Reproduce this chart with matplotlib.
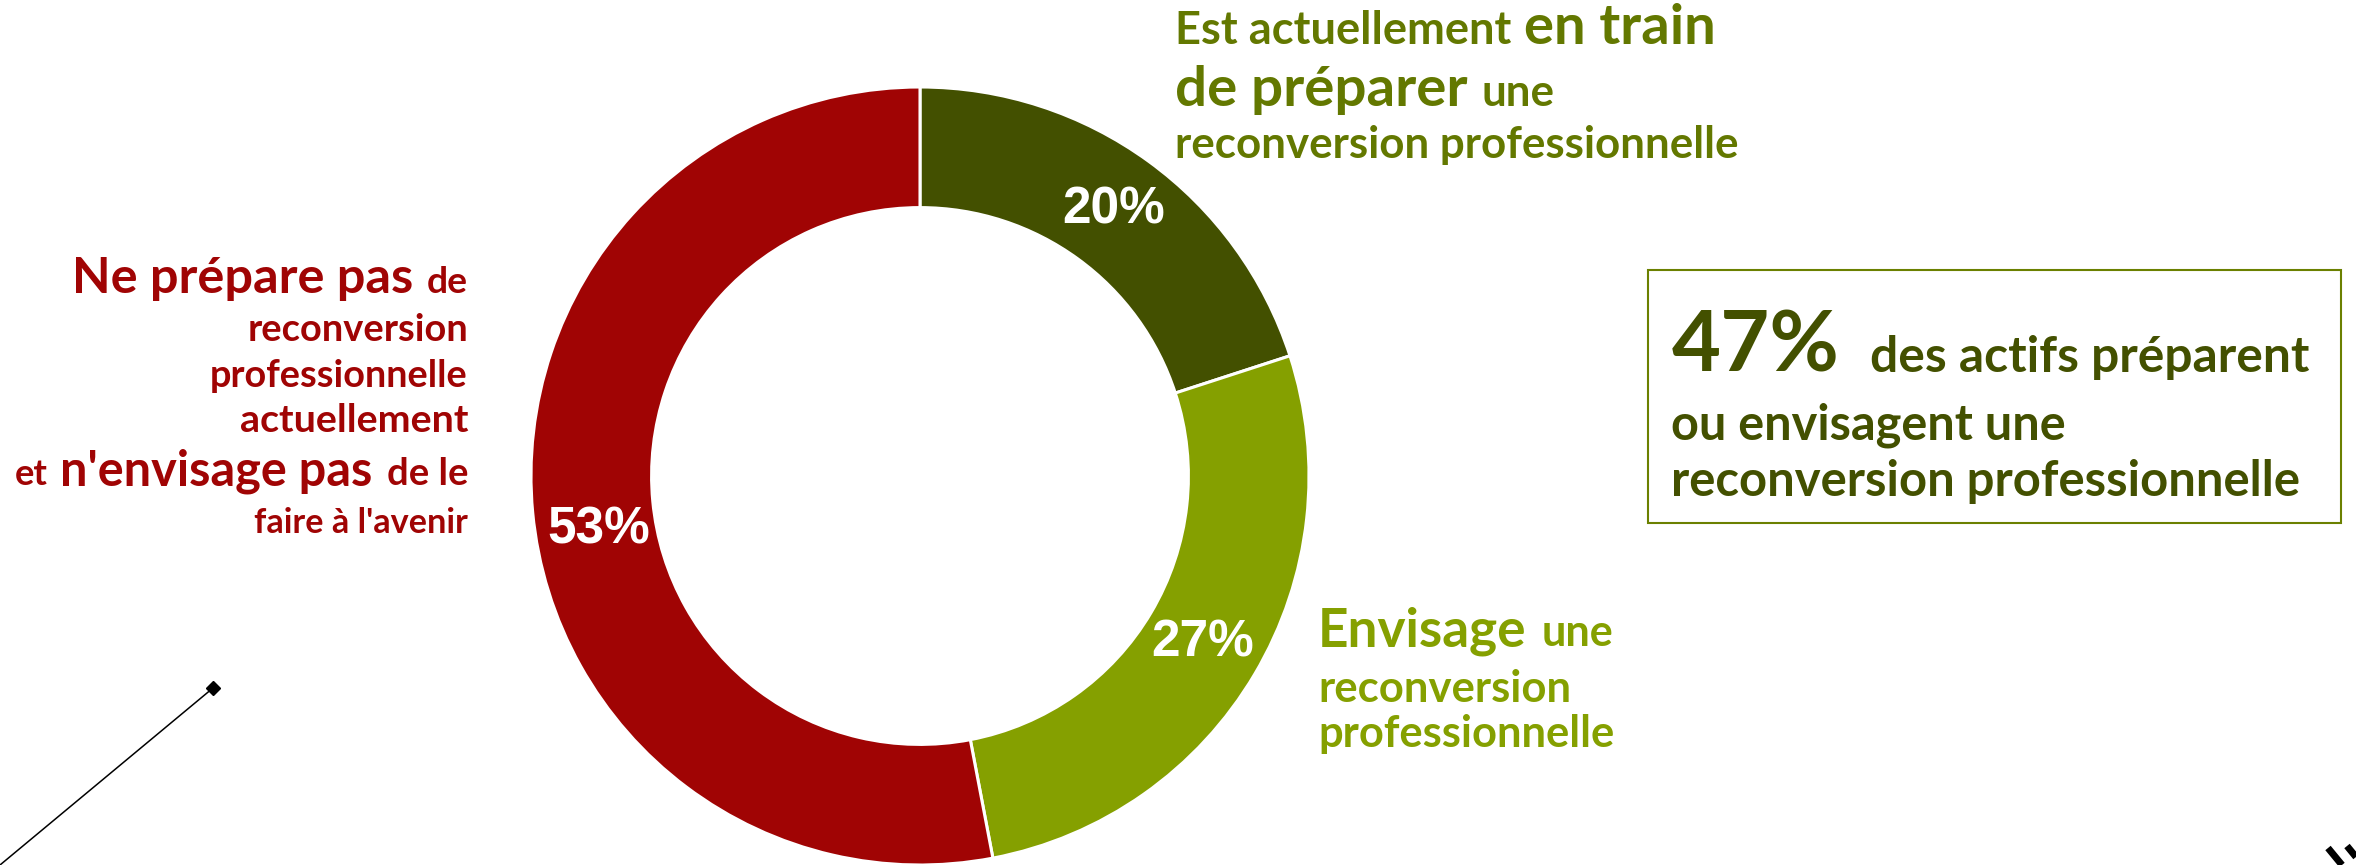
import matplotlib
matplotlib.use("Agg")
import matplotlib.pyplot as plt
from matplotlib.patches import Rectangle
from matplotlib.lines import Line2D

# ---------------- data ----------------
categories = [
    "Est actuellement en train de préparer une reconversion professionnelle",
    "Envisage une reconversion professionnelle",
    "Ne prépare pas de reconversion professionnelle actuellement et n'envisage pas de le faire à l'avenir",
]
values = [20, 27, 53]
wedge_colors = ["#435000", "#85a000", "#a00404"]
highlight_value = "47%"

# ---------------- figure ----------------
W, H, DPI = 2356, 865, 100
fig = plt.figure(figsize=(W / DPI, H / DPI), dpi=DPI)
fig.patch.set_facecolor("white")

FONT = "Lato"
renderer = fig.canvas.get_renderer()


def fit_size(s, target_px, family=FONT, weight="bold"):
    t = fig.text(0, 0, s, fontsize=100, family=family, fontweight=weight)
    w = t.get_window_extent(renderer).width
    t.remove()
    return 100 * target_px / w


def put(s, x, y, width, color, family=FONT, weight="bold"):
    size = fit_size(s, width, family, weight)
    fig.text(x / W, 1 - y / H, s, fontsize=size, family=family,
             fontweight=weight, color=color, ha="left", va="baseline")


# donut
cx, cy, R = 920, 476, 389
ax = fig.add_axes([(cx - R) / W, (H - cy - R) / H, 2 * R / W, 2 * R / H])
wedges, texts, autotexts = ax.pie(
    values, colors=wedge_colors, startangle=90, counterclock=False,
    radius=1, wedgeprops=dict(width=0.31, edgecolor="white", linewidth=2.2),
    autopct=lambda p: f"{p:.0f}%", pctdistance=0.845,
    textprops=dict(color="white", fontsize=37, fontweight="bold",
                   family="Liberation Sans"),
)
for at in autotexts:
    at.set_ha("center")
    at.set_va("center")
# small nudge of the last label as in the reference
x0, y0 = autotexts[2].get_position()
autotexts[2].set_position((x0 + 0.015, y0 - 0.06))
ax.set_xlim(-1, 1)
ax.set_ylim(-1, 1)
ax.set_aspect("equal")
ax.axis("off")

# ---------------- annotations ----------------
TR = "#637800"
put("Est actuellement", 1175, 44, 336, TR)
put("en train", 1524, 44, 192, TR)
put("de préparer", 1175, 106, 292, TR)
put("une", 1482, 106, 73, TR)
put("reconversion professionnelle", 1175, 158, 563, TR)

LG = "#85a000"
put("Envisage", 1318, 646, 209, LG)
put("une", 1542, 646, 72, LG)
put("reconversion", 1318, 702, 253, LG)
put("professionnelle", 1318, 747, 296, LG)

RD = "#a00404"
put("Ne prépare pas", 72, 293, 341, RD)
put("de", 427, 293, 41, RD)
put("reconversion", 248, 341, 220, RD)
put("professionnelle", 210, 387, 258, RD)
put("actuellement", 240, 432, 228, RD)
put("et", 15, 485, 33, RD)
put("n'envisage pas", 60, 485, 312, RD)
put("de le", 387, 485, 81, RD)
put("faire à l'avenir", 254, 533, 214, RD)

# highlighted box
DG = "#435000"
fig.patches.append(Rectangle((1648 / W, 1 - 523 / H), (2341 - 1648) / W, (523 - 270) / H,
                             transform=fig.transFigure, fill=False,
                             edgecolor="#6b8000", linewidth=1.5))
put(highlight_value, 1672, 372, 168, DG)
put("des actifs préparent", 1870, 372, 440, DG)
put("ou envisagent une", 1671, 440, 395, DG)
put("reconversion professionnelle", 1671, 496, 629, DG)

# decorative connector line with diamond end
fig.lines.append(Line2D([0 / W, 213 / W], [1 - 865 / H, 1 - 688 / H],
                        transform=fig.transFigure, color="black", linewidth=1.1))
fig.lines.append(Line2D([213 / W], [1 - 688 / H], transform=fig.transFigure,
                        marker="D", markersize=7, color="black", linestyle="none"))
# cut-off mark in the bottom-right corner
fig.lines.append(Line2D([2328 / W, 2342 / W], [1 - 848 / H, 1 - 865 / H],
                        transform=fig.transFigure, color="black", linewidth=5,
                        solid_capstyle="butt"))
fig.lines.append(Line2D([2347 / W, 2356 / W], [1 - 846 / H, 1 - 857 / H],
                        transform=fig.transFigure, color="black", linewidth=5,
                        solid_capstyle="butt"))

fig.savefig("out.png", dpi=DPI, facecolor="white")
